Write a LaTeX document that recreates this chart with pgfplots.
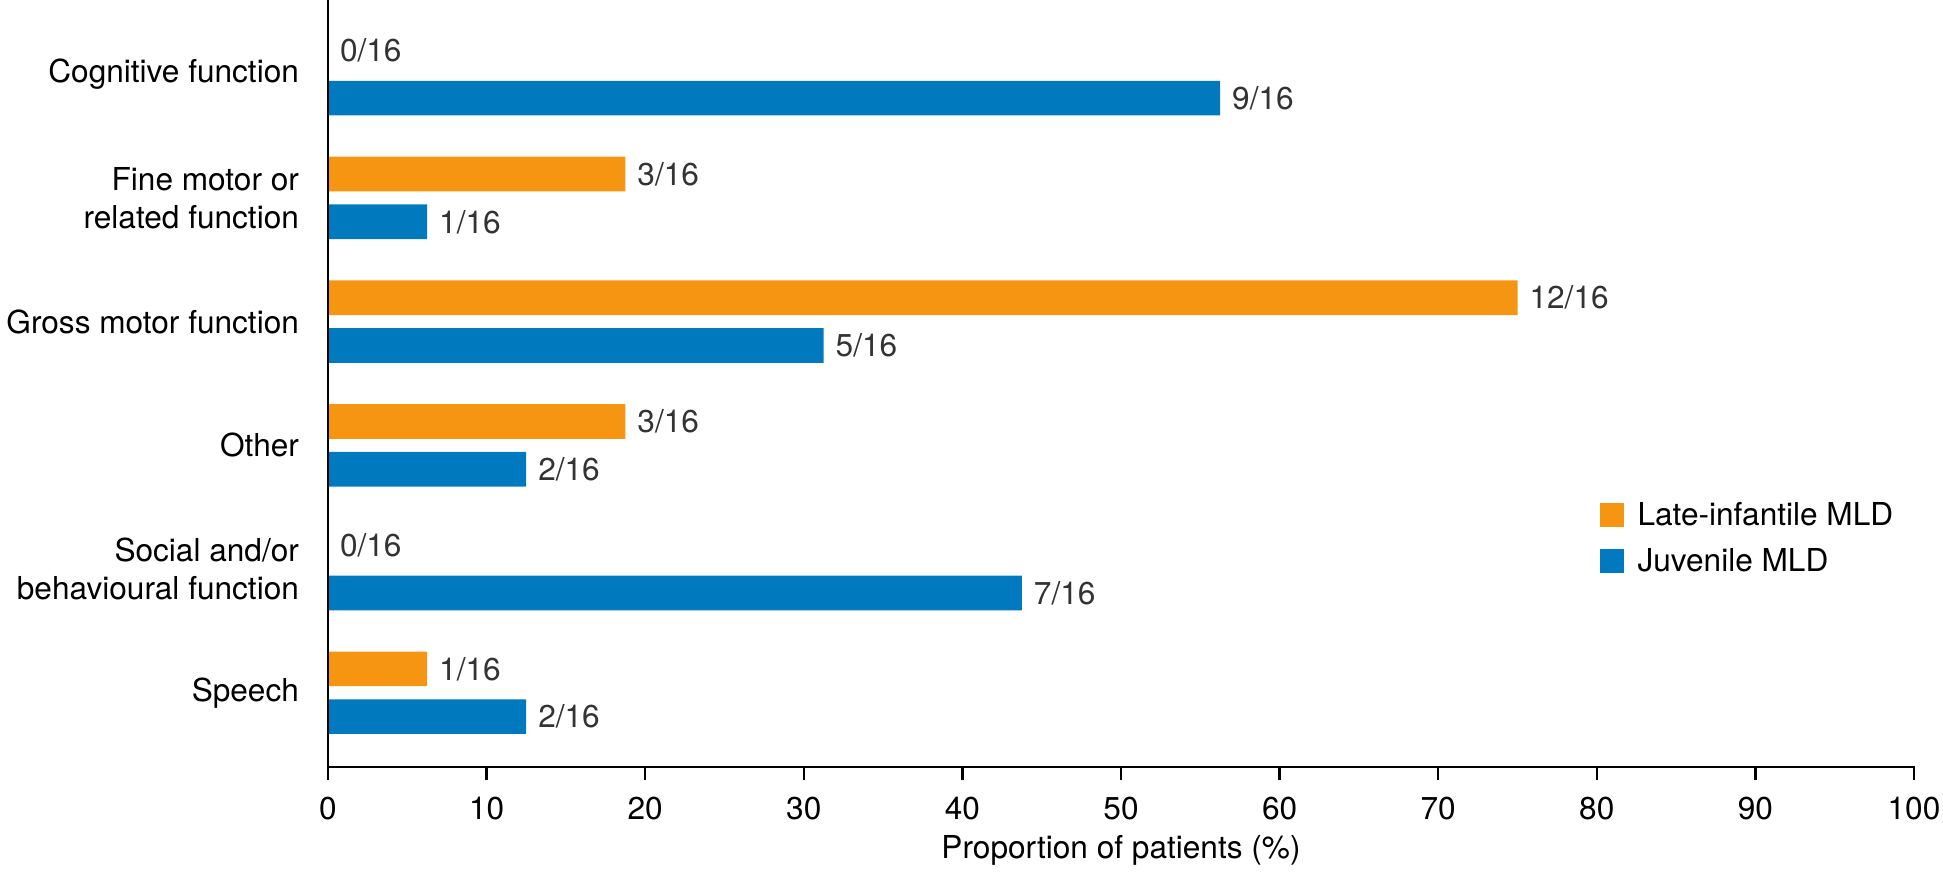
\documentclass[border=0pt]{standalone}
\usepackage{fontspec}
\setmainfont{TeX Gyre Heros}
\usepackage{pgfplots}
\pgfplotsset{compat=1.18}
\usepackage{pgfplotstable}
\definecolor{cOr}{HTML}{F69512}
\definecolor{cBl}{HTML}{0079BF}
\definecolor{cLab}{HTML}{333333}
\newcommand{\myfont}{\fontsize{15.8}{19}\selectfont}
\pgfplotstableread{
y xo lo xb lb
5 0 0/16 56.25 9/16
4 18.75 3/16 6.25 1/16
3 75 12/16 31.25 5/16
2 18.75 3/16 12.5 2/16
1 0 0/16 43.75 7/16
0 6.25 1/16 12.5 2/16
}\data
\begin{document}
\begin{tikzpicture}
\useasboundingbox (-164pt,-60pt) rectangle (807.5pt,383.5pt);
\begin{axis}[
  at={(0,0)}, anchor=south west,
  scale only axis, width=793pt, height=383.5pt,
  xbar, bar width=0.28,
  xmin=0, xmax=100, ymin=-0.6, ymax=5.6,
  clip=false,
  axis line style={draw=none},
  xtick={0,10,...,100},
  ytick={0,1,2,3,4,5},
  yticklabels={{Speech},{Social and/or\\behavioural function},{Other},{Gross motor function},{Fine motor or\\related function},{Cognitive function}},
  tick align=outside,
  xtick pos=left,
  ytick pos=left,
  major tick length=6pt,
  tick style={draw=none},
  /pgf/number format/assume math mode=true,
  xticklabel style={font=\myfont, yshift=-5.5pt},
  yticklabel style={font=\myfont, align=right, xshift=-5pt},
  xlabel={Proportion of patients (\%)},
  xlabel style={font=\myfont, yshift=-1pt},
  point meta=explicit symbolic,
  nodes near coords,
  nodes near coords align={horizontal},
  nodes near coords style={font=\myfont, text=cLab, anchor=west, xshift=2.5pt},
  legend style={at={(0.7977,0.356)}, anchor=north west, draw=none, fill=none, font=\myfont, row sep=6pt,
    /tikz/every odd column/.append style={column sep=5pt}},
  legend cell align=left,
  legend image code/.code={\fill[#1,draw=none] (0pt,-6pt) rectangle (12pt,6pt);},
]
\addplot[fill=cOr, draw=none, bar shift=0.193] table[x=xo, y=y, meta=lo] {\data};
\addplot[fill=cBl, draw=none, bar shift=-0.193] table[x=xb, y=y, meta=lb] {\data};
\legend{Late-infantile MLD, Juvenile MLD}
\end{axis}
\draw[line width=1.2pt, black, line cap=rect] (0pt,383.5pt) -- (0pt,0pt) -- (793pt,0pt);
\foreach \k in {0,...,10}
  \fill[black] ({\k*79.3pt-0.6pt},0pt) rectangle ({\k*79.3pt+0.6pt},-6.5pt);
\end{tikzpicture}
\end{document}
